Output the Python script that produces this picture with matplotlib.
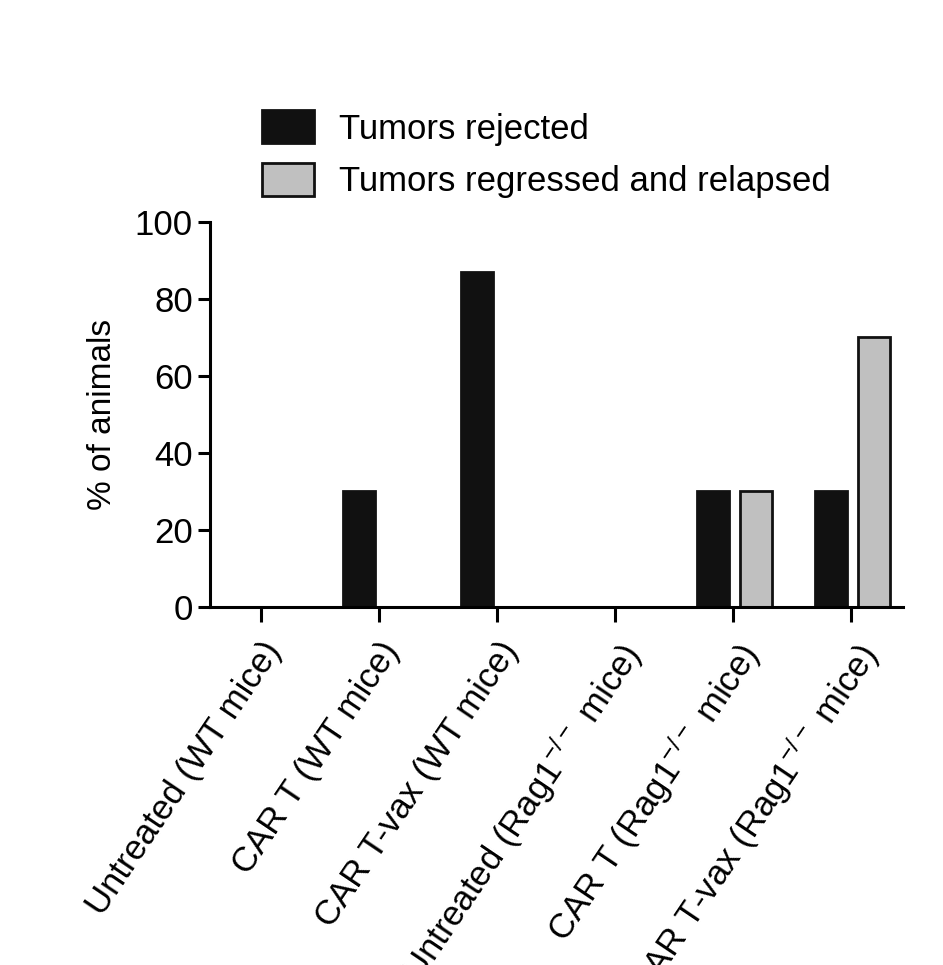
import numpy as np
import matplotlib.pyplot as plt

plt.rcParams["font.family"] = "Liberation Sans"
plt.rcParams["mathtext.default"] = "regular"

groups = ["Untreated (WT mice)", "CAR T (WT mice)", "CAR T-vax (WT mice)",
          "Untreated (Rag1$^{-/-}$ mice)", "CAR T (Rag1$^{-/-}$ mice)",
          "CAR T-vax (Rag1$^{-/-}$ mice)"]
rejected = [0, 30, 87, 0, 30, 30]
relapsed = [0, 0, 0, 0, 30, 70]

fig = plt.figure(figsize=(9.43, 9.65), dpi=100)
ax = fig.add_axes([0.223, 0.371, 0.735, 0.399])
x = np.arange(len(groups))
w = 0.27
ax.bar(x - 0.17, rejected, w, color="#111111", edgecolor="#111111", linewidth=2,
       label="Tumors rejected")
ax.bar(x + 0.19, relapsed, w, color="#c0c0c0", edgecolor="#111111", linewidth=2,
       label="Tumors regressed and relapsed")

ax.set_xlim(-0.43, 5.44)
ax.set_ylim(0, 100)
ax.set_yticks([0, 20, 40, 60, 80, 100])
ax.set_xticks(x)
ax.set_xticklabels(groups, rotation=56, ha="right", rotation_mode="anchor", fontsize=25)
ax.set_ylabel("% of animals", fontsize=24, labelpad=12)
ax.tick_params(axis="y", labelsize=25, width=2.2, length=9)
ax.tick_params(axis="x", width=2.2, length=11, pad=10)
for s in ["top", "right"]:
    ax.spines[s].set_visible(False)
for s in ["left", "bottom"]:
    ax.spines[s].set_linewidth(2.2)

ax.legend(loc="lower left", bbox_to_anchor=(0.03, 0.98), frameon=False, fontsize=25,
          handlelength=1.5, handleheight=1.1, labelspacing=0.5, handletextpad=0.7)

fig.savefig("out.png", dpi=100)
